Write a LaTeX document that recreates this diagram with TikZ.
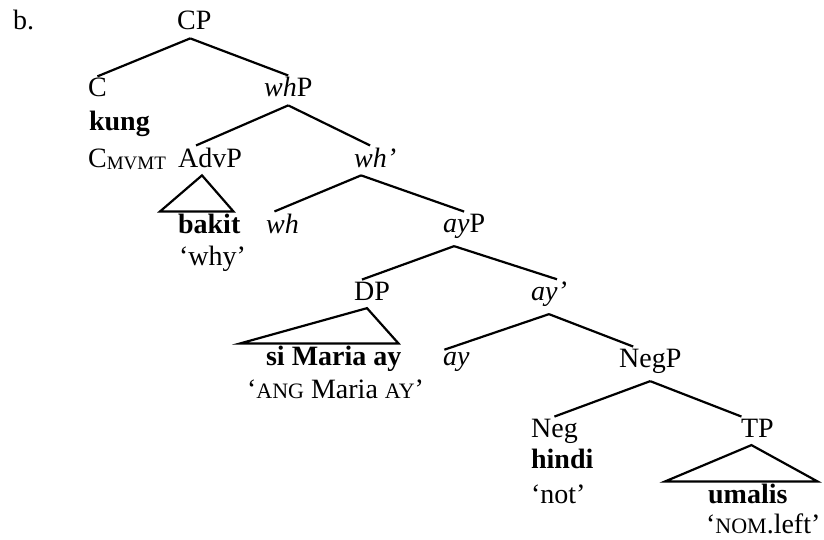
\documentclass[tikz,border=0pt]{standalone}
\usepackage{fontspec}
\setmainfont{Liberation Serif}
\newcommand{\smcap}[1]{{\fontsize{11pt}{13pt}\selectfont #1}}
\newcommand{\subcap}[1]{\raisebox{-1pt}{\fontsize{9.5pt}{11pt}\selectfont #1}}
\begin{document}
\begin{tikzpicture}[x=0.5pt,y=-0.5pt,line width=1.1pt,
    lbl/.style={anchor=base west,inner xsep=0pt,inner ysep=0.5pt,font=\fontsize{14pt}{16pt}\selectfont}]
  \useasboundingbox (0,0) rectangle (824,540);
  \node[lbl] (b) at (12,30) {b.};
  \node[lbl] (CP) at (176,30) {CP};
  \node[lbl] (C) at (87,97) {C};
  \node[lbl] (whP) at (263,97) {\textit{wh}P};
  \node[lbl] (kung) at (88,131) {\textbf{kung}};
  \node[lbl] (Cmvmt) at (87,168) {C\subcap{MVMT}};
  \node[lbl] (AdvP) at (177,167) {AdvP};
  \node[lbl] (whbar) at (353,167) {\textit{wh’}};
  \node[lbl] (bakit) at (177,233) {\textbf{bakit}};
  \node[lbl] (why) at (178,265) {‘why’};
  \node[lbl] (wh) at (265,233) {\textit{wh}};
  \node[lbl] (ayP) at (442,232) {\textit{ay}P};
  \node[lbl] (DP) at (353,300) {DP};
  \node[lbl] (aybar) at (530,300) {\textit{ay’}};
  \node[lbl] (siMaria) at (265,365) {\textbf{si Maria ay}};
  \node[lbl] (gloss1) at (246,398) {‘\smcap{ANG} Maria \smcap{AY}’};
  \node[lbl] (ay) at (442,365) {\textit{ay}};
  \node[lbl] (NegP) at (618,367) {NegP};
  \node[lbl] (Neg) at (530,437) {Neg};
  \node[lbl] (TP) at (740,437) {TP};
  \node[lbl] (hindi) at (530,468) {\textbf{hindi}};
  \node[lbl] (not) at (530,503) {‘not’};
  \node[lbl] (umalis) at (707,503) {\textbf{umalis}};
  \node[lbl] (gloss2) at (705,533) {‘\smcap{NOM}.left’};

  \draw ([xshift=-2pt,yshift=-3pt]CP.south) -- (C.north);
  \draw ([xshift=-2pt,yshift=-3pt]CP.south) -- (whP.north);
  \draw ([yshift=-3pt]whP.south) -- ([xshift=-7pt]AdvP.north);
  \draw ([yshift=-3pt]whP.south) -- ([xshift=-2.5pt]whbar.north);
  \draw ([xshift=-4pt,yshift=-3pt]AdvP.south) -- ([xshift=-8.5pt]bakit.north west) -- ([xshift=-4pt]bakit.north east) -- cycle;
  \draw ([xshift=-7pt,yshift=-3pt]whbar.south) -- ([xshift=-4pt]wh.north);
  \draw ([xshift=-7pt,yshift=-3pt]whbar.south) -- (ayP.north);
  \draw ([xshift=-5pt,yshift=-3pt]ayP.south) -- ([xshift=-5pt]DP.north);
  \draw ([xshift=-5pt,yshift=-3pt]ayP.south) -- ([xshift=4pt]aybar.north);
  \draw ([xshift=-2.5pt,yshift=-3pt]DP.south) -- ([xshift=-12.5pt]siMaria.north west) -- ([xshift=-2pt]siMaria.north east) -- cycle;
  \draw ([yshift=-3pt]aybar.south) -- ([xshift=-6pt]ay.north);
  \draw ([yshift=-3pt]aybar.south) -- ([xshift=-8.5pt]NegP.north);
  \draw ([yshift=-3pt]NegP.south) -- (Neg.north);
  \draw ([yshift=-3pt]NegP.south) -- ([xshift=-8pt]TP.north);
  \draw ([xshift=-3pt,yshift=-3pt]TP.south) -- ([xshift=-21pt]umalis.north west) -- ([xshift=14.5pt]umalis.north east) -- cycle;
\end{tikzpicture}
\end{document}
